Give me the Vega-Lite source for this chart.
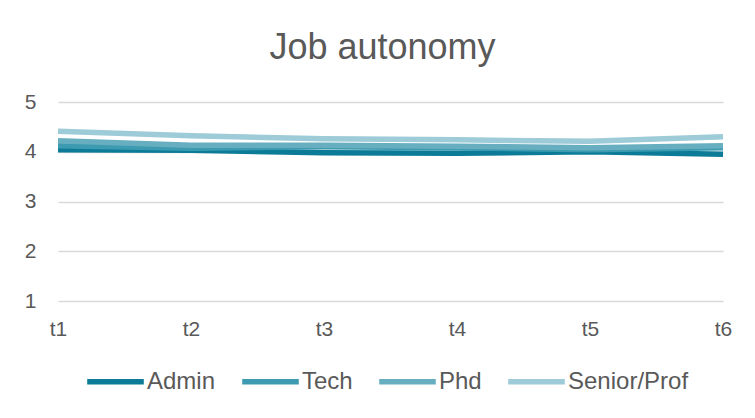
{
  "$schema": "https://vega.github.io/schema/vega-lite/v6.json",
  "autosize": {"type": "none"},
  "width": 665,
  "height": 199,
  "padding": {"left": 58, "top": 102, "right": 32, "bottom": 117},
  "background": "white",
  "title": {
    "text": "Job autonomy",
    "frame": "group",
    "anchor": "middle",
    "baseline": "alphabetic",
    "offset": 40,
    "dy": 44,
    "dx": -8,
    "font": "Liberation Sans",
    "fontSize": 36,
    "fontWeight": "normal",
    "color": "#595959"
  },
  "data": {
    "values": [
      {"time": "t1", "group": "Admin", "score": 4.04},
      {"time": "t2", "group": "Admin", "score": 4.03},
      {"time": "t3", "group": "Admin", "score": 3.98},
      {"time": "t4", "group": "Admin", "score": 3.97},
      {"time": "t5", "group": "Admin", "score": 4.0},
      {"time": "t6", "group": "Admin", "score": 3.95},
      {"time": "t1", "group": "Tech", "score": 4.12},
      {"time": "t2", "group": "Tech", "score": 4.07},
      {"time": "t3", "group": "Tech", "score": 4.1},
      {"time": "t4", "group": "Tech", "score": 4.08},
      {"time": "t5", "group": "Tech", "score": 4.04},
      {"time": "t6", "group": "Tech", "score": 4.08},
      {"time": "t1", "group": "Phd", "score": 4.22},
      {"time": "t2", "group": "Phd", "score": 4.13},
      {"time": "t3", "group": "Phd", "score": 4.13},
      {"time": "t4", "group": "Phd", "score": 4.11},
      {"time": "t5", "group": "Phd", "score": 4.08},
      {"time": "t6", "group": "Phd", "score": 4.12},
      {"time": "t1", "group": "Senior/Prof", "score": 4.41},
      {"time": "t2", "group": "Senior/Prof", "score": 4.32},
      {"time": "t3", "group": "Senior/Prof", "score": 4.26},
      {"time": "t4", "group": "Senior/Prof", "score": 4.24},
      {"time": "t5", "group": "Senior/Prof", "score": 4.21},
      {"time": "t6", "group": "Senior/Prof", "score": 4.3}
    ]
  },
  "mark": {"type": "line", "strokeWidth": 5.5, "strokeJoin": "round"},
  "encoding": {
    "x": {
      "field": "time",
      "type": "ordinal",
      "scale": {"type": "point", "padding": 0},
      "axis": {
        "title": null,
        "labelAngle": 0,
        "domain": false,
        "ticks": false,
        "grid": false,
        "labelPadding": 17,
        "labelFont": "Liberation Sans",
        "labelFontSize": 21,
        "labelColor": "#595959"
      }
    },
    "y": {
      "field": "score",
      "type": "quantitative",
      "scale": {"domain": [1, 5], "nice": false, "zero": false},
      "axis": {
        "title": null,
        "values": [1, 2, 3, 4, 5],
        "domain": false,
        "ticks": false,
        "grid": true,
        "gridColor": "#d9d9d9",
        "gridWidth": 1.5,
        "labelPadding": 22,
        "labelFont": "Liberation Sans",
        "labelFontSize": 21,
        "labelColor": "#595959"
      }
    },
    "color": {
      "field": "group",
      "type": "nominal",
      "sort": ["Admin", "Tech", "Phd", "Senior/Prof"],
      "scale": {
        "domain": ["Admin", "Tech", "Phd", "Senior/Prof"],
        "range": ["#0b7b97", "#3c9bb0", "#67afc0", "#9dcbd7"]
      },
      "legend": {
        "title": null,
        "orient": "none",
        "direction": "horizontal",
        "legendX": 26,
        "legendY": 248,
        "symbolType": "stroke",
        "symbolStrokeWidth": 5.5,
        "symbolSize": 3200,
        "labelOffset": 0,
        "columnPadding": 15,
        "labelFont": "Liberation Sans",
        "labelFontSize": 24,
        "labelColor": "#595959"
      }
    },
    "order": {"field": "group"}
  },
  "config": {
    "view": {"stroke": null}
  }
}
